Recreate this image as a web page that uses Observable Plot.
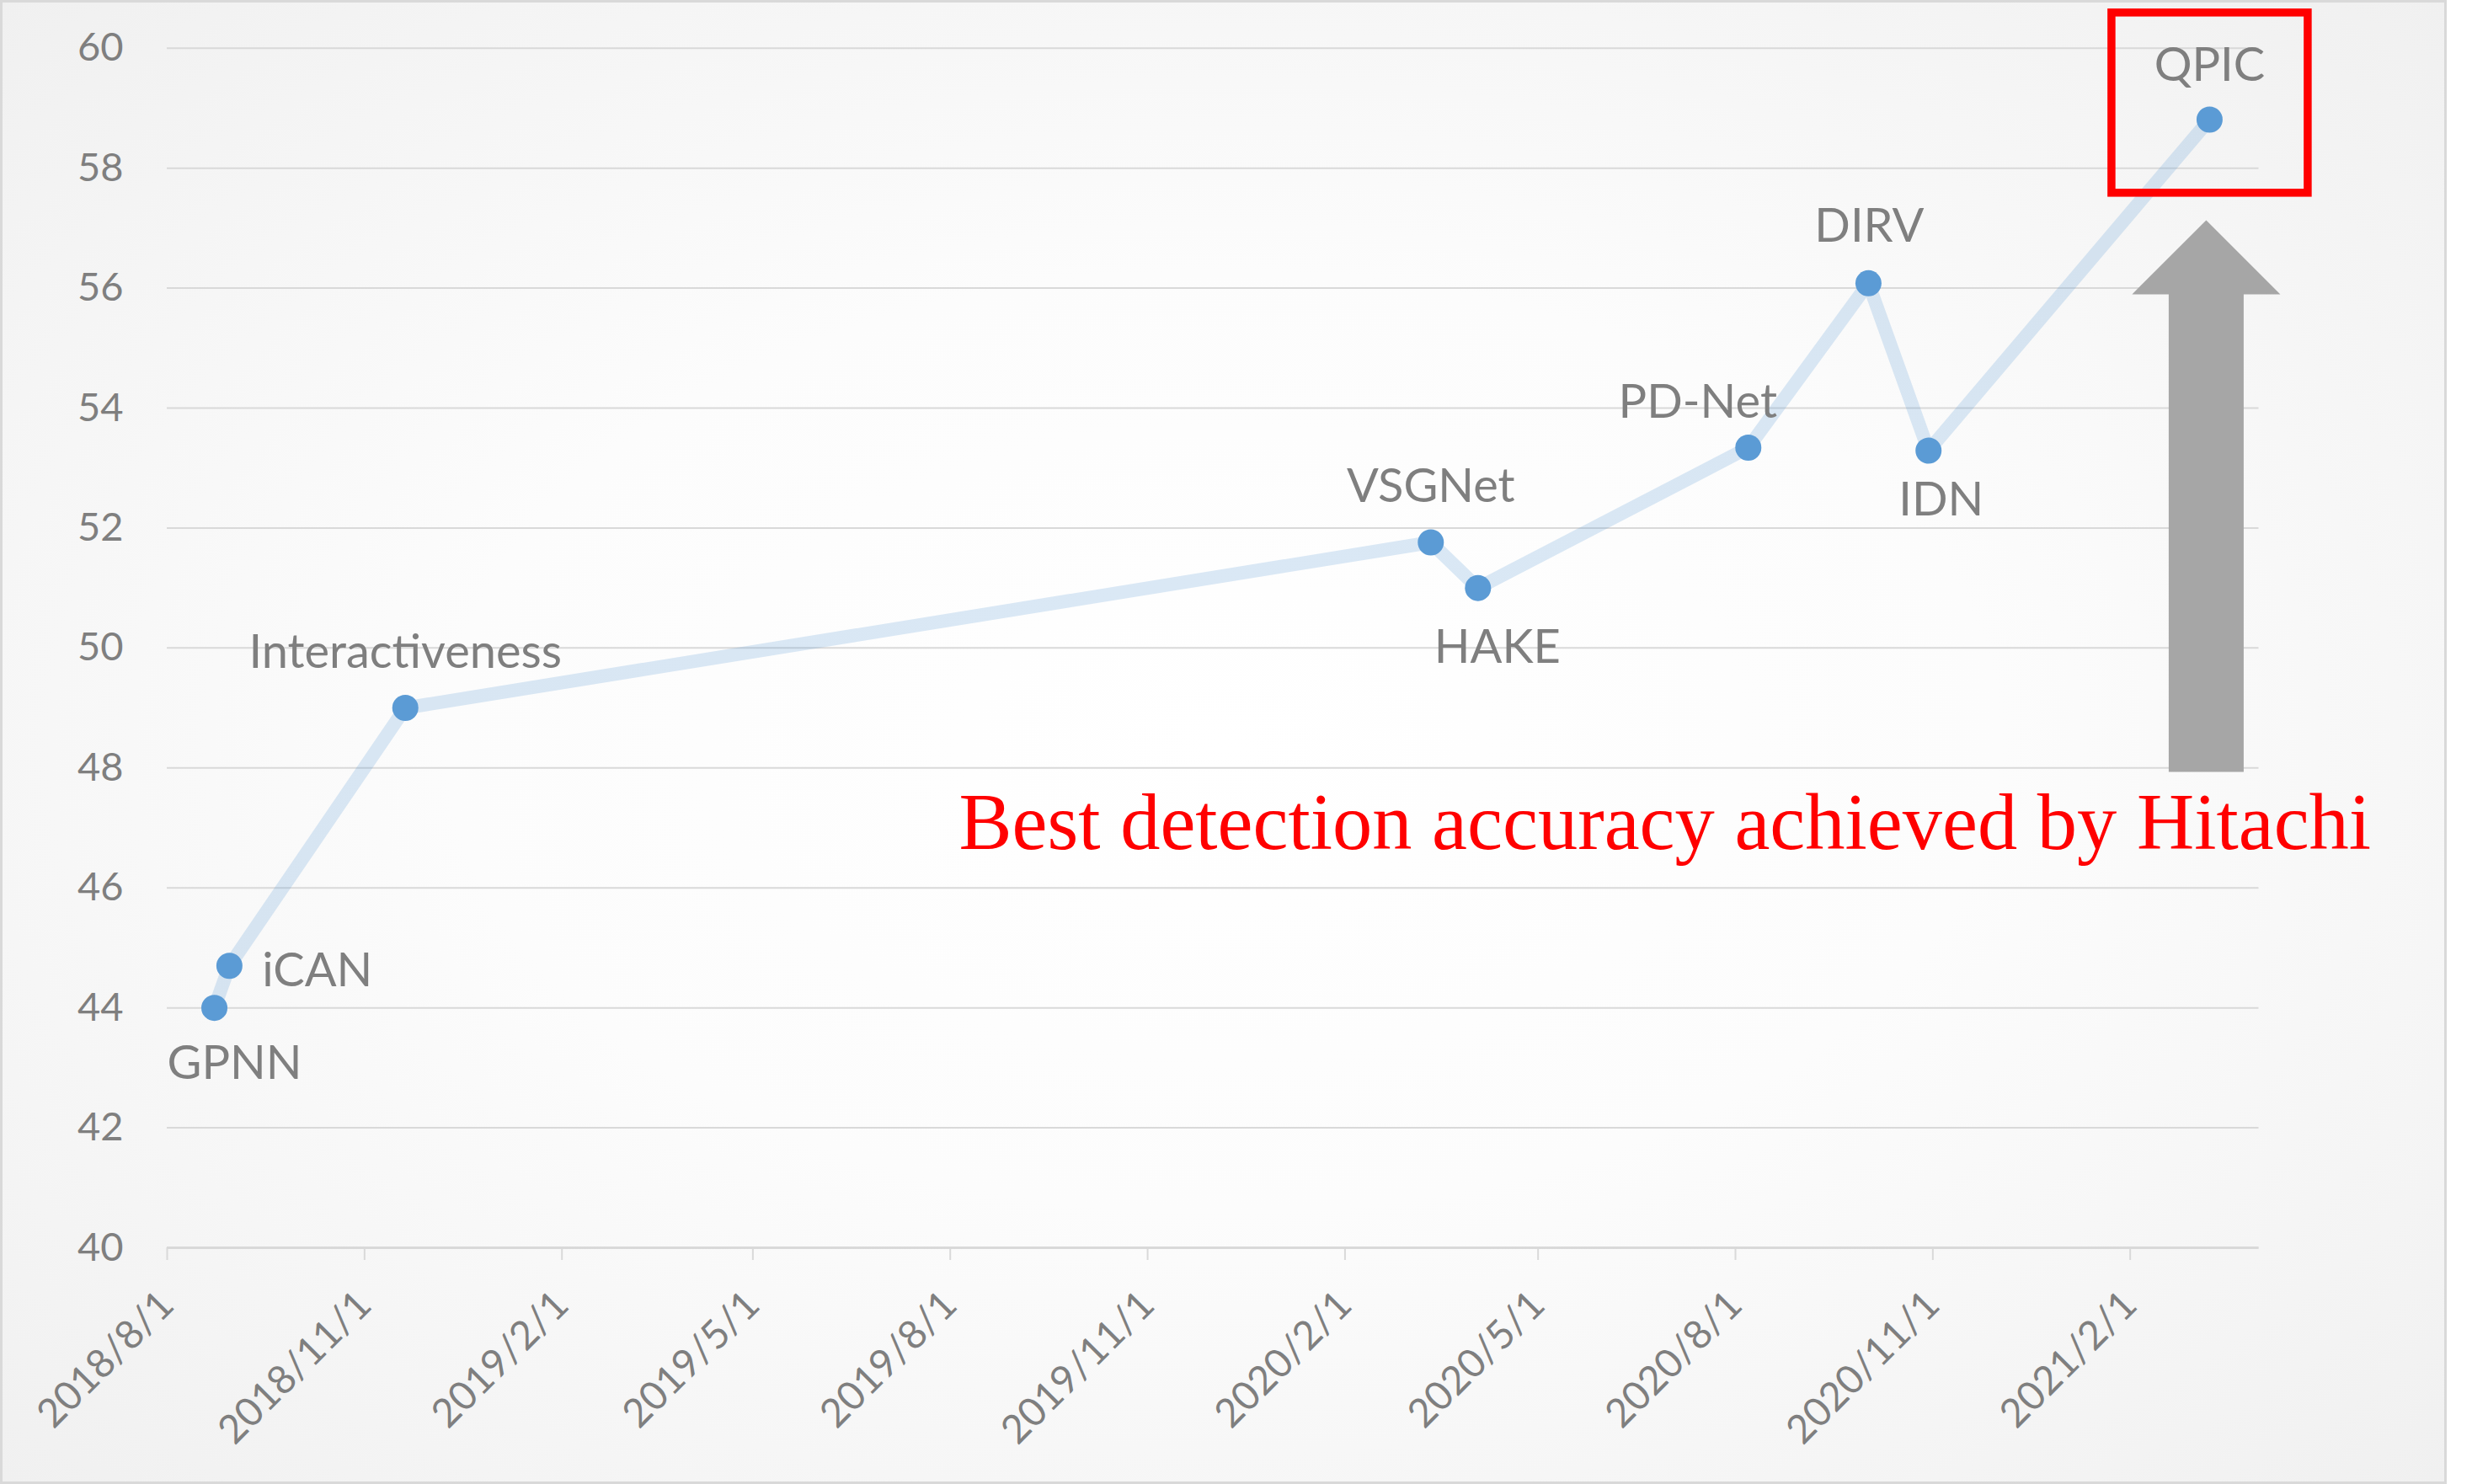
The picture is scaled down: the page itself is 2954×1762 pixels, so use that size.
<!DOCTYPE html>
<html>
<head>
<meta charset="utf-8">
<script src="https://cdn.jsdelivr.net/npm/d3@7"></script>
<script src="https://cdn.jsdelivr.net/npm/@observablehq/plot@0.6"></script>
<style>
  html, body { margin: 0; padding: 0; background: #ffffff; }
  #frame {
    position: absolute; left: 0; top: 0;
    width: 2905px; height: 1762px; box-sizing: border-box;
    border: 3px solid #D9D9D9;
    background: radial-gradient(ellipse farthest-corner at 50% 50%, #ffffff 0%, #fcfcfc 45%, #f0f0f0 100%);
  }
  #frame svg { display: block; }
</style>
</head>
<body>
<div id="frame"></div>
<script>
// ---------- data ----------
const methods   = ["GPNN", "iCAN", "Interactiveness", "VSGNet", "HAKE", "PD-Net", "DIRV", "IDN", "QPIC"];
const published = ["2018-08-23", "2018-08-30", "2018-11-20", "2020-03-12", "2020-04-03", "2020-08-07", "2020-10-02", "2020-10-30", "2021-03-10"];
const accuracy  = [44.0, 44.7, 49.0, 51.76, 51.0, 53.34, 56.08, 53.29, 58.81];
const xTickLabels = ["2018/8/1", "2018/11/1", "2019/2/1", "2019/5/1", "2019/8/1", "2019/11/1",
                     "2020/2/1", "2020/5/1", "2020/8/1", "2020/11/1", "2021/2/1"];
const yTicks = [40, 42, 44, 46, 48, 50, 52, 54, 56, 58, 60];
const xDomainLabels = ["2018/8/1", "2021/4/2"];
const highlighted = "QPIC";
const annotation = "Best detection accuracy achieved by Hitachi";

// ---------- layout (label placement, not data) ----------
const labelPlacement = {
  "GPNN":            {dx: 24,  dy: 66,  anchor: "middle"},
  "iCAN":            {dx: 39,  dy: 6,   anchor: "start"},
  "Interactiveness": {dx: 0,   dy: -65, anchor: "middle"},
  "VSGNet":          {dx: 0,   dy: -66, anchor: "middle"},
  "HAKE":            {dx: 23,  dy: 71,  anchor: "middle"},
  "PD-Net":          {dx: -60, dy: -53, anchor: "middle"},
  "DIRV":            {dx: 1,   dy: -67, anchor: "middle"},
  "IDN":             {dx: 15,  dy: 59,  anchor: "middle"},
  "QPIC":            {dx: 0,   dy: -64, anchor: "middle"}
};

const parseSlash = s => { const [y, m, d] = s.split("/").map(Number); return new Date(Date.UTC(y, m - 1, d)); };
const fmtSlash = d => `${d.getUTCFullYear()}/${d.getUTCMonth() + 1}/${d.getUTCDate()}`;

const data = methods.map((m, i) => ({method: m, date: new Date(published[i] + "T00:00:00Z"), value: accuracy[i]}));
const xTicks = xTickLabels.map(parseSlash);
const xDomain = xDomainLabels.map(parseSlash);

const GRAY_TEXT = "#7F7F7F";
const GRID = "#D9D9D9";
const BLUE = "#5B9BD5";

// callout: red box around the highlighted point and the grey block arrow below it
const callout = (index, scales) => {
  const p = data.find(d => d.method === highlighted);
  const X = scales.x(p.date), Y = scales.y(p.value);
  const g = d3.create("svg:g");
  const cx = X - 3.5;
  const pts = [[cx, Y + 120], [cx + 88, Y + 208], [cx + 44.5, Y + 208], [cx + 44.5, Y + 775],
               [cx - 44.5, Y + 775], [cx - 44.5, Y + 208], [cx - 88, Y + 208]];
  g.append("polygon").attr("points", pts.map(q => q.join(",")).join(" ")).attr("fill", "#A6A6A6");
  g.append("rect")
    .attr("x", X - 116).attr("y", Y - 126.6).attr("width", 233).attr("height", 214)
    .attr("fill", "none").attr("stroke", "#FF0000").attr("stroke-width", 9.5);
  return g.node();
};

const labelMarks = data.map(d => {
  const L = labelPlacement[d.method];
  return Plot.text([d], {
    x: "date", y: "value", text: "method",
    dx: L.dx, dy: L.dy, textAnchor: L.anchor,
    fontSize: 56, fontFamily: "Lato", fill: GRAY_TEXT
  });
});

const chart = Plot.plot({
  width: 2899, height: 1756,
  marginLeft: 195, marginRight: 220.5, marginTop: 53.7, marginBottom: 278,
  style: {background: "transparent", fontFamily: "Lato", overflow: "visible"},
  x: {type: "utc", domain: xDomain, label: null},
  y: {domain: [40, 60], label: null},
  marks: [
    Plot.gridY({ticks: yTicks, stroke: GRID, strokeOpacity: 1, strokeWidth: 2}),
    Plot.ruleY([40], {stroke: GRID, strokeWidth: 3}),
    Plot.ruleX(xTicks, {x: d => d, y1: () => 40, y2: () => 40, insetBottom: -15, stroke: GRID, strokeWidth: 2}),
    Plot.axisY({ticks: yTicks, tickSize: 0, tickPadding: 52, fontSize: 47, color: GRAY_TEXT, label: null}),
    Plot.axisX({ticks: xTicks, tickSize: 0, tickPadding: 60, tickRotate: -45, textAnchor: "end", lineAnchor: "middle",
                fontSize: 47, color: GRAY_TEXT, tickFormat: fmtSlash, label: null}),
    Plot.line(data, {x: "date", y: "value", stroke: BLUE, strokeOpacity: 0.22, strokeWidth: 16,
                     strokeLinejoin: "round", strokeLinecap: "round"}),
    callout,
    Plot.dot(data, {x: "date", y: "value", r: 15.5, fill: BLUE, stroke: "none"}),
    ...labelMarks,
    Plot.text([annotation], {frameAnchor: "top-left", text: d => d, textAnchor: "start",
                             dx: 940, dy: 884, fontSize: 94.5, fontFamily: "Liberation Serif", fill: "#FF0000"})
  ]
});
document.getElementById("frame").appendChild(chart);
</script>
</body>
</html>
